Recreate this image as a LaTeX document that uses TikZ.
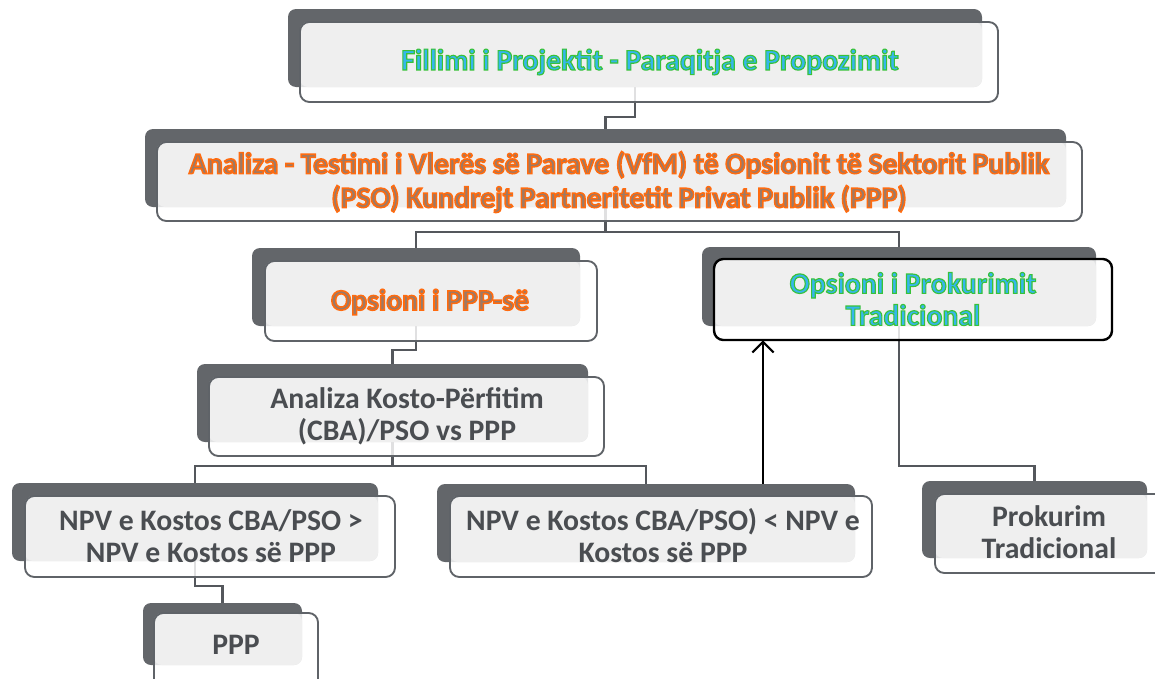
\documentclass[tikz,border=0pt]{standalone}
\usepackage{fontspec}
\setmainfont{Carlito}
\usetikzlibrary{fit,arrows.meta}
\definecolor{boxdark}{HTML}{63666A}
\definecolor{boxlight}{HTML}{EFEFEF}
\definecolor{boxedge}{HTML}{5F6368}
\definecolor{conncol}{HTML}{54575C}
\definecolor{bluefill}{HTML}{35B6EC}
\definecolor{orangefill}{HTML}{9A7A68}
\definecolor{graytext}{HTML}{4A4D51}
\pgfdeclarelayer{bg}\pgfsetlayers{bg,main}
\tikzset{
 darkbox/.style={fill=boxdark, rounded corners=6pt, inner sep=0pt, draw=none},
 frontbox/.style={fill=white, fill opacity=0.82, rounded corners=7pt, inner sep=0pt},
 edgebox/.style={draw=boxedge, line width=1.4pt, rounded corners=7pt, inner sep=0pt},
 keybox/.style={draw=black, line width=1.8pt, rounded corners=7pt, inner sep=0pt},
 lbl/.style={font=\bfseries\fontsize{22.3}{24}\selectfont, align=center, inner sep=0pt},
 bluelbl/.style={lbl, text=bluefill},
 orangelbl/.style={lbl, text=orangefill},
 graylbl/.style={lbl, text=graytext},
 conn/.style={draw=conncol, line width=1.7pt},
 uparrow/.style={draw=black, line width=1.6pt, -{Straight Barb[length=8pt,width=16pt,line width=1.6pt]}},
}
% name, dark c1, dark c2, outline c1, outline c2, edge style
\newcommand\smbox[6]{%
 \node[darkbox, fit={#2 #3}] (#1) {};
 \node[frontbox, fit={#4 #5}] (#1o) {};
 \fill[boxlight, rounded corners=6pt] #4 rectangle #3;
 \node[#6, fit={#4 #5}] {};
}
% outlined text: stroke width, stroke colour (r g b), text
\newcommand\outl[3]{\special{pdf:literal direct 2 Tr #1 w #2 RG}#3\special{pdf:literal direct 0 Tr}}
\newcommand\greenout[1]{\outl{0.85}{0.22 0.76 0.22}{#1}}
\newcommand\orangeout[1]{\outl{1.15}{1 0.42 0.06}{#1}}
\begin{document}
\begin{tikzpicture}[x=0.75pt,y=-0.75pt]
\useasboundingbox (0,0) rectangle (1155,678);
\clip (0,0) rectangle (1155,678);

\smbox{n1}{(288,9)}{(982,87)}{(300,22)}{(998,102)}{edgebox}
\smbox{n2}{(145,129)}{(1066,207)}{(157,142)}{(1082,221)}{edgebox}
\smbox{n3}{(252,248)}{(580,326)}{(265,261)}{(597,341)}{edgebox}
\smbox{n4}{(702,247)}{(1096,326)}{(714,259)}{(1112,340)}{keybox}
\smbox{n5}{(197,364)}{(588,442)}{(209,377)}{(604,456)}{edgebox}
\smbox{n6}{(12,483)}{(378,561)}{(25,496)}{(395,577)}{edgebox}
\smbox{n7}{(437,484)}{(855,562)}{(450,496)}{(872,577)}{edgebox}
\smbox{n8}{(922,481)}{(1147,558)}{(935,494)}{(1165,573)}{edgebox}
\smbox{n9}{(143,603)}{(302,665)}{(154,613)}{(318,692)}{edgebox}

\node[bluelbl] (t1) at (650,62) {\greenout{Fillimi i Projektit - Paraqitja e Propozimit}};
\node[orangelbl, font=\bfseries\fontsize{22.3}{25.5}\selectfont] (t2) at (619,182) {\orangeout{Analiza - Testimi i Vlerës së Parave (VfM) të Opsionit të Sektorit Publik\\(PSO) Kundrejt Partneritetit Privat Publik (PPP)}};
\node[orangelbl] (t3) at (430,302) {\orangeout{Opsioni i PPP-së}};
\node[bluelbl] (t4) at (913,299) {\greenout{Opsioni i Prokurimit\\Tradicional}};
\node[graylbl] (t5) at (407,416) {Analiza Kosto-Përfitim\\(CBA)/PSO vs PPP};
\node[graylbl] (t6) at (211,536) {NPV e Kostos CBA/PSO >\\NPV e Kostos së PPP};
\node[graylbl] (t7) at (663,536) {NPV e Kostos CBA/PSO) < NPV e\\Kostos së PPP};
\node[graylbl] (t8) at (1049,532) {Prokurim\\Tradicional};
\node[graylbl] (t9) at (236,645) {PPP};

\begin{pgfonlayer}{bg}
\draw[conn] (n1.south) -- (n1.south |- 0,117) -| (n2.north);
\draw[conn] (n2.south) -- (n2.south |- 0,232) -| (n3.north);
\draw[conn] (n2.south |- 0,232) -| (n4.north);
\draw[conn] (n3.south) -- (n3.south |- 0,350) -| (n5.north);
\draw[conn] (n5.south) -- (n5.south |- 0,466) -| (n6.north);
\draw[conn] (n5.south |- 0,466) -| (n7.north);
\draw[conn] (n4.south) -- (n4.south |- 0,466) -| (n8.north);
\draw[conn] (n6.south) -- (n6.south |- 0,586) -| (n9.north);
\end{pgfonlayer}
\draw[uparrow] (n7.north -| 763,0) -- (n4o.south -| 763,0);
\end{tikzpicture}
\end{document}
